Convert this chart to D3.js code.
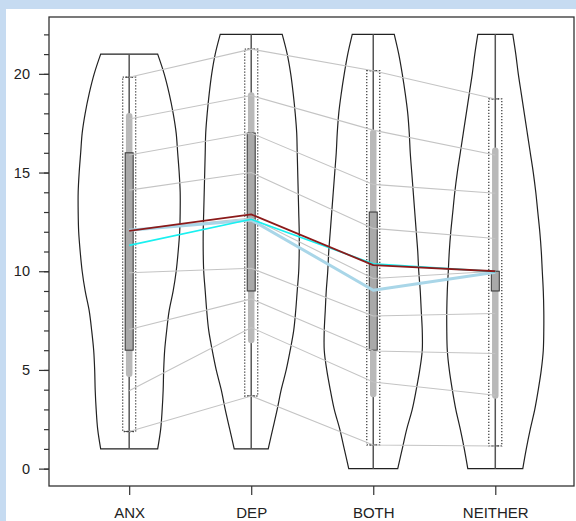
<!DOCTYPE html>
<html>
<head>
<meta charset="utf-8">
<script src="https://cdn.jsdelivr.net/npm/d3@7"></script>
<style>
  body { margin: 0; background: #c6dbf1; }
  svg { display: block; font-family: "Liberation Sans", Arial, sans-serif; }
</style>
</head>
<body>
<div id="chart"></div>
<script>
// groups
var groups = ["ANX", "DEP", "BOTH", "NEITHER"]

// violin range (score min / max) per group
var violinLow = [1, 1, 0, 0]
var violinHigh = [21, 22, 22, 22]

// relative density at each integer score from low to high
var densANX = [0.57, 0.63, 0.66, 0.68, 0.69, 0.71, 0.75, 0.80, 0.88, 0.94, 0.98, 1.01, 1.02, 1.02, 1.00, 0.97, 0.94, 0.88, 0.80, 0.70, 0.57]
var densDEP = [0.34, 0.43, 0.52, 0.60, 0.70, 0.78, 0.85, 0.89, 0.92, 0.95, 0.96, 0.96, 0.95, 0.94, 0.93, 0.92, 0.91, 0.88, 0.84, 0.79, 0.72, 0.62]
var densBOTH = [0.49, 0.58, 0.67, 0.78, 0.86, 0.93, 0.98, 0.98, 0.96, 0.94, 0.91, 0.89, 0.86, 0.83, 0.80, 0.77, 0.74, 0.72, 0.69, 0.64, 0.58, 0.51, 0.42]
var densNEITHER = [0.55, 0.62, 0.70, 0.79, 0.86, 0.92, 0.96, 0.97, 0.97, 0.96, 0.94, 0.92, 0.89, 0.85, 0.81, 0.76, 0.70, 0.64, 0.58, 0.52, 0.46, 0.41, 0.35]

// inner bar (light gray) and interquartile box
var barLow = [4.65, 6.37, 3.63, 3.55]
var barHigh = [18.0, 19.05, 17.15, 16.26]
var boxLow = [6, 9, 6, 9]
var boxHigh = [16, 17, 13, 10]

// quantiles joined across groups (first/last = dotted box)
var qANX = [1.88, 3.94, 7.05, 9.92, 12.08, 14.11, 15.89, 17.71, 19.83]
var qDEP = [3.68, 7.15, 8.6, 10.15, 12.7, 15.0, 17.0, 18.9, 21.25]
var qBOTH = [1.2, 4.39, 5.96, 7.73, 9.63, 12.17, 14.4, 17.15, 20.16]
var qNEITHER = [1.15, 3.72, 5.83, 7.86, 10.0, 11.66, 13.95, 15.89, 18.73]

// summary lines
var lineBlue = [12.08, 12.6, 9.04, 9.95]
var lineCyan = [11.31, 12.63, 10.38, 9.98]
var lineRed = [12.05, 12.88, 10.31, 10.0]

var yMajor = [0, 5, 10, 15, 20]
var yMinor = d3.range(0, 23)

var dens = [densANX, densDEP, densBOTH, densNEITHER]
var quants = [qANX, qDEP, qBOTH, qNEITHER]

var W = 576, H = 521
var margin = { top: 17, right: 2, bottom: 35, left: 49 }

var svg = d3.select("#chart").append("svg")
    .attr("width", W)
    .attr("height", H)

svg.append("rect")
    .attr("x", 6).attr("y", 9)
    .attr("width", W - 6).attr("height", H - 9)
    .attr("fill", "white")

var x = d3.scaleLinear()
    .domain([0.343, 4.645])
    .range([margin.left, W - margin.right])
var y = d3.scaleLinear()
    .domain([-0.88, 22.88])
    .range([H - margin.bottom, margin.top])
var w = d3.scaleLinear().domain([0, 1]).range([0, 50])

// violins
var violin = d3.area()
    .curve(d3.curveCatmullRom)
    .y(function (d) { return y(d.v) })
    .x0(function (d) { return d.cx - w(d.d) })
    .x1(function (d) { return d.cx + w(d.d) })

groups.forEach(function (g, i) {
    var cx = x(i + 1)
    var pts = dens[i].map(function (d, k) {
        return { v: violinLow[i] + k, d: d, cx: cx }
    })
    svg.append("path")
        .datum(pts)
        .attr("d", violin)
        .attr("fill", "none")
        .attr("stroke", "#222")
        .attr("stroke-width", 1.2)
})

// center lines, dotted boxes, bars, boxes
groups.forEach(function (g, i) {
    var cx = x(i + 1)
    var q = quants[i]
    svg.append("line")
        .attr("x1", cx).attr("x2", cx)
        .attr("y1", y(violinLow[i])).attr("y2", y(violinHigh[i]))
        .attr("stroke", "#555").attr("stroke-width", 1.5)

    svg.append("rect")
        .attr("x", cx - 6.5).attr("width", 13)
        .attr("y", y(q[q.length - 1])).attr("height", y(q[0]) - y(q[q.length - 1]))
        .attr("fill", "none")
        .attr("stroke", "#444")
        .attr("stroke-width", 1.3)
        .attr("stroke-dasharray", "1.3,1.7")
    ;[q[0], q[q.length - 1]].forEach(function (v) {
        svg.append("line")
            .attr("x1", cx - 4).attr("x2", cx + 4)
            .attr("y1", y(v)).attr("y2", y(v))
            .attr("stroke", "#444").attr("stroke-width", 1)
    })

    svg.append("line")
        .attr("x1", cx).attr("x2", cx)
        .attr("y1", y(barLow[i]) - 3).attr("y2", y(barHigh[i]) + 3)
        .attr("stroke", "#b9b9b9")
        .attr("stroke-width", 6.5)
        .attr("stroke-linecap", "round")

    svg.append("rect")
        .attr("x", cx - 4).attr("width", 8)
        .attr("y", y(boxHigh[i])).attr("height", y(boxLow[i]) - y(boxHigh[i]))
        .attr("fill", "#a9a9a9")
        .attr("stroke", "#333")
        .attr("stroke-width", 1)
})

// quantile lines between groups
var qLine = d3.line()
    .x(function (d, i) { return x(i + 1) })
    .y(function (d) { return y(d) })

d3.range(qANX.length).forEach(function (k) {
    svg.append("path")
        .datum(quants.map(function (q) { return q[k] }))
        .attr("d", qLine)
        .attr("fill", "none")
        .attr("stroke", "#c4c4c4")
        .attr("stroke-width", 1.1)
})

// summary lines
;[[lineBlue, "#a9d6e8", 3], [lineCyan, "#19f0f0", 1.6], [lineRed, "#8b1a1a", 1.8]].forEach(function (s) {
    svg.append("path")
        .datum(s[0])
        .attr("d", qLine)
        .attr("fill", "none")
        .attr("stroke", s[1])
        .attr("stroke-width", s[2])
        .attr("stroke-linejoin", "round")
})

// frame
svg.append("rect")
    .attr("x", margin.left).attr("y", margin.top)
    .attr("width", W - margin.right - margin.left)
    .attr("height", H - margin.bottom - margin.top)
    .attr("fill", "none")
    .attr("stroke", "#333")
    .attr("stroke-width", 1.3)

// axes
var yMinorAxis = svg.append("g")
    .attr("transform", "translate(" + margin.left + ",0)")
    .call(d3.axisLeft(y).tickValues(yMinor).tickSize(5).tickSizeOuter(0).tickFormat(""))
var yAxis = svg.append("g")
    .attr("transform", "translate(" + margin.left + ",0)")
    .call(d3.axisLeft(y).tickValues(yMajor).tickSize(10).tickSizeOuter(0).tickPadding(9))
var xAxis = svg.append("g")
    .attr("transform", "translate(0," + (H - margin.bottom) + ")")
    .call(d3.axisBottom(x).tickValues([1, 2, 3, 4]).tickSize(9).tickSizeOuter(0)
        .tickPadding(12).tickFormat(function (d) { return groups[d - 1] }))

;[yMinorAxis, yAxis, xAxis].forEach(function (a) {
    a.select(".domain").remove()
    a.selectAll("line").attr("stroke", "#333").attr("stroke-width", 1.2)
})
yAxis.selectAll("text").attr("font-size", 14.5).attr("fill", "#222")
xAxis.selectAll("text").attr("font-size", 15).attr("fill", "#222")
</script>
</body>
</html>
